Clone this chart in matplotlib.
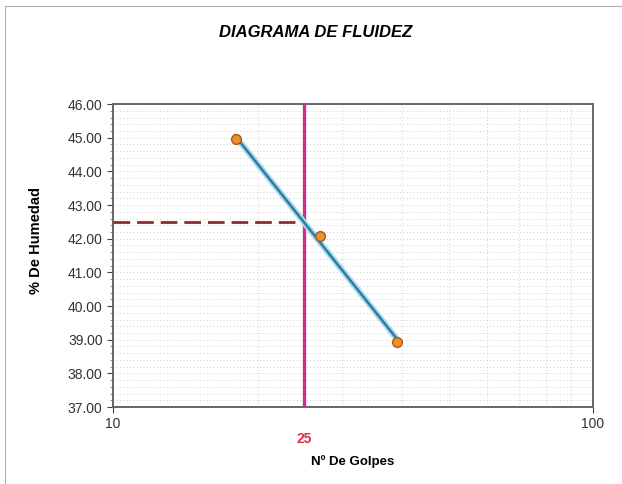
import matplotlib.pyplot as plt
import matplotlib.transforms as mtransforms
from matplotlib.ticker import FixedLocator, NullFormatter, MultipleLocator, FormatStrFormatter
from matplotlib.patches import Rectangle
import numpy as np

plt.rcParams['font.family'] = ['Liberation Sans', 'DejaVu Sans']

# Ensayo de limite liquido: golpes vs humedad
golpes = [18, 27, 39]
humedad = [44.95, 42.08, 38.93]
golpes_ref = 25

# Recta de fluidez (ajuste en escala semilog)
pend, orden = np.polyfit(np.log10(golpes), humedad, 1)
x_recta = np.array([min(golpes), max(golpes)])
y_recta = pend * np.log10(x_recta) + orden
lim_liquido = pend * np.log10(golpes_ref) + orden

fig = plt.figure(figsize=(6.22, 4.84), dpi=100)
ax = fig.add_axes([0.1817, 0.159, 0.7717, 0.626])

# marco exterior del grafico
fig.patches.append(Rectangle((0.008, -0.01), 1.2, 0.997, transform=fig.transFigure,
                             fill=False, edgecolor='#b0b0b0', lw=0.8))

ax.set_xscale('log')
ax.set_xlim(10, 100)
ax.set_ylim(37, 46)

ax.xaxis.set_major_locator(FixedLocator([10, 100]))
ax.xaxis.set_major_formatter(FormatStrFormatter('%d'))
ax.xaxis.set_minor_locator(FixedLocator([20, 30, 40, 50, 60, 70, 80, 90]))
ax.xaxis.set_minor_formatter(NullFormatter())
ax.yaxis.set_major_locator(MultipleLocator(1))
ax.yaxis.set_minor_locator(MultipleLocator(0.2))
ax.yaxis.set_major_formatter(FormatStrFormatter('%.2f'))

ax.grid(which='both', color='#c0c0c0', linestyle=(0, (1, 3)), lw=0.6)
ax.tick_params(axis='both', which='major', labelsize=10, colors='#444444',
               labelcolor='#333333', length=4, direction='out')
ax.tick_params(axis='y', which='minor', length=2, color='#777777')
ax.tick_params(axis='x', which='minor', length=0)
for s in ax.spines.values():
    s.set_color('#666666')
    s.set_linewidth(1.4)

# lineas de lectura en N = 25
ax.axvline(golpes_ref, color='#cc2e8c', lw=2.4, zorder=3)
ax.plot([10, golpes_ref], [lim_liquido, lim_liquido], color='#8e2a2a',
        lw=2, dashes=(6, 2.5), zorder=3)

# recta de fluidez y puntos del ensayo
ax.plot(x_recta, y_recta, color='#a9dcef', lw=4.5, zorder=4, solid_capstyle='round')
ax.plot(x_recta, y_recta, color='#2f7c9c', lw=1.8, zorder=5)
ax.plot(golpes, humedad, 'o', ms=7, markerfacecolor='#f0902a',
        markeredgecolor='#a45a1a', markeredgewidth=1, zorder=6)

trans = mtransforms.blended_transform_factory(ax.transData, ax.transAxes)
ax.text(golpes_ref, -0.105, str(golpes_ref), transform=trans, ha='center', va='center',
        color='#e0303f', fontsize=10, fontweight='bold')

ax.set_xlabel('Nº De Golpes', fontsize=9.5, fontweight='bold', labelpad=17)
ax.set_ylabel('% De Humedad', fontsize=10.5, fontweight='bold')
ax.yaxis.set_label_coords(-0.145, 0.55)
fig.text(0.508, 0.932, 'DIAGRAMA DE FLUIDEZ', ha='center', va='center',
         fontsize=12, fontweight='bold', fontstyle='italic')

fig.savefig('out.png', dpi=100)
